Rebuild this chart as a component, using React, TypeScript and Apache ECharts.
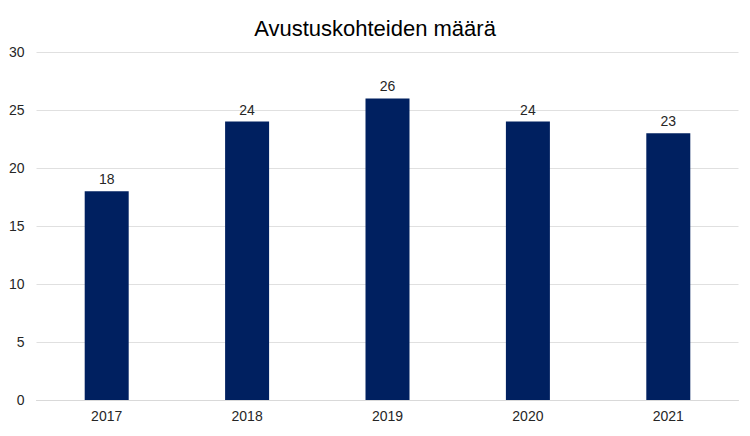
import React, { useEffect, useRef } from "react";
import * as echarts from "echarts";

const categories = ["2017", "2018", "2019", "2020", "2021"];
const values = [18, 24, 26, 24, 23];
const yTicks = [0, 5, 10, 15, 20, 25, 30];

export default function App() {
  const ref = useRef<HTMLDivElement>(null);
  useEffect(() => {
    const chart = echarts.init(ref.current!, null, { renderer: "svg" });
    chart.setOption({
      animation: false,
      backgroundColor: "#ffffff",
      textStyle: { fontFamily: "Liberation Sans, Arial, sans-serif" },
      title: {
        text: "Avustuskohteiden määrä",
        left: "center",
        top: 12,
        textStyle: { fontSize: 22, fontWeight: "normal", color: "#000000", fontFamily: "Liberation Sans, Arial, sans-serif" },
      },
      grid: { left: 36.5, right: 11.5, top: 52, bottom: 36, containLabel: false },
      xAxis: {
        type: "category",
        data: categories,
        axisLine: { show: true, lineStyle: { color: "#d9d9d9", width: 1 } },
        axisTick: { show: false },
        axisLabel: { color: "#262626", fontSize: 14, margin: 9 },
      },
      yAxis: {
        type: "value",
        min: yTicks[0],
        max: yTicks[yTicks.length - 1],
        interval: 5,
        axisLine: { show: false },
        axisTick: { show: false },
        axisLabel: { color: "#262626", fontSize: 14, margin: 12 },
        splitLine: { lineStyle: { color: "#e0e0e0", width: 1 } },
      },
      series: [
        {
          type: "bar",
          data: values,
          barWidth: 44,
          itemStyle: { color: "#002060" },
          label: { show: true, position: "top", color: "#262626", fontSize: 14, distance: 5 },
        },
      ],
    });
    return () => chart.dispose();
  }, []);
  return <div ref={ref} style={{ position: "absolute", left: 0, top: 0, width: 750, height: 436 }} />;
}
